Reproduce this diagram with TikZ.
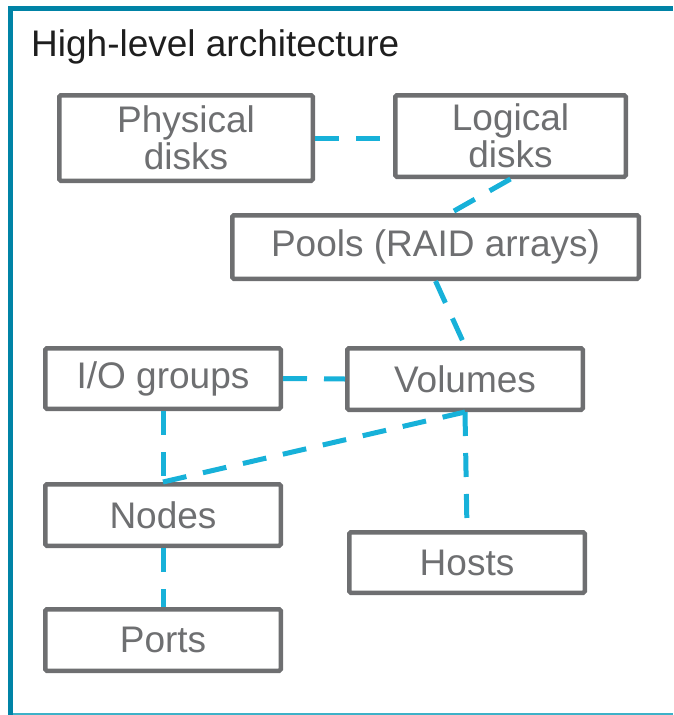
\documentclass[tikz,border=0pt]{standalone}
\usepackage{fontspec}
\setmainfont{Liberation Sans}
\definecolor{framedark}{HTML}{0083A6}
\definecolor{framelight}{HTML}{3DB1C8}
\definecolor{boxgray}{HTML}{6E6F71}
\definecolor{linkcyan}{HTML}{17B1D9}
\definecolor{titleink}{HTML}{1E1E1E}
\begin{document}
\begin{tikzpicture}[x=1pt,y=-1pt,
  comp/.style={draw=boxgray, line width=4.5pt, rounded corners=1.5pt, fill=white,
    text=boxgray, font=\fontsize{37}{37}\selectfont, align=center,
    inner sep=0pt, anchor=center},
  link/.style={draw=linkcyan, line width=5pt, dash pattern=on 24pt off 17pt}]
\useasboundingbox (0,0) rectangle (673,715);

% outer frame (open to the right)
\draw[framelight, line width=2pt] (8,714) -- (673,714);
\draw[framedark, line width=5pt] (10.5,6) -- (10.5,715);
\draw[framedark, line width=5pt] (8,8.5) -- (673,8.5);

\node[anchor=base west, text=titleink, font=\fontsize{37}{37}\selectfont, inner sep=0pt]
  (title) at (31,56.5) {High-level architecture};

% components
\node[comp, minimum width=253.5pt, minimum height=85.5pt] (phys) at (186,138) {Physical\\disks};
\node[comp, minimum width=230.5pt, minimum height=81.5pt] (logi) at (510.5,136) {Logical\\disks};
\node[comp, minimum width=406.5pt, minimum height=63.5pt] (pools) at (435.5,247) {Pools (RAID arrays)};
\node[comp, minimum width=235.5pt, minimum height=60.5pt] (iog) at (163,378.5) {I/O groups};
\node[comp, minimum width=235.5pt, minimum height=61.5pt] (vols) at (465,379) {Volumes};
\node[comp, minimum width=235.5pt, minimum height=61.5pt] (nodes) at (163,515) {Nodes};
\node[comp, minimum width=235.5pt, minimum height=60.5pt] (hosts) at (467,562.5) {Hosts};
\node[comp, minimum width=235.5pt, minimum height=61.5pt] (ports) at (163,640) {Ports};

% relations
\draw[link] (phys.east) -- (phys.east -| logi.west);
\draw[link] (logi.south) -- ([xshift=15pt]pools.north);
\draw[link] (pools.south) -- (vols.north);
\draw[link] (iog.east) -- (vols.west);
\draw[link] (iog.south) -- (nodes.north);
\draw[link] (nodes.north) -- (vols.south);
\draw[link] (vols.south) -- (hosts.north);
\draw[link] (nodes.south) -- (ports.north);
\end{tikzpicture}
\end{document}
